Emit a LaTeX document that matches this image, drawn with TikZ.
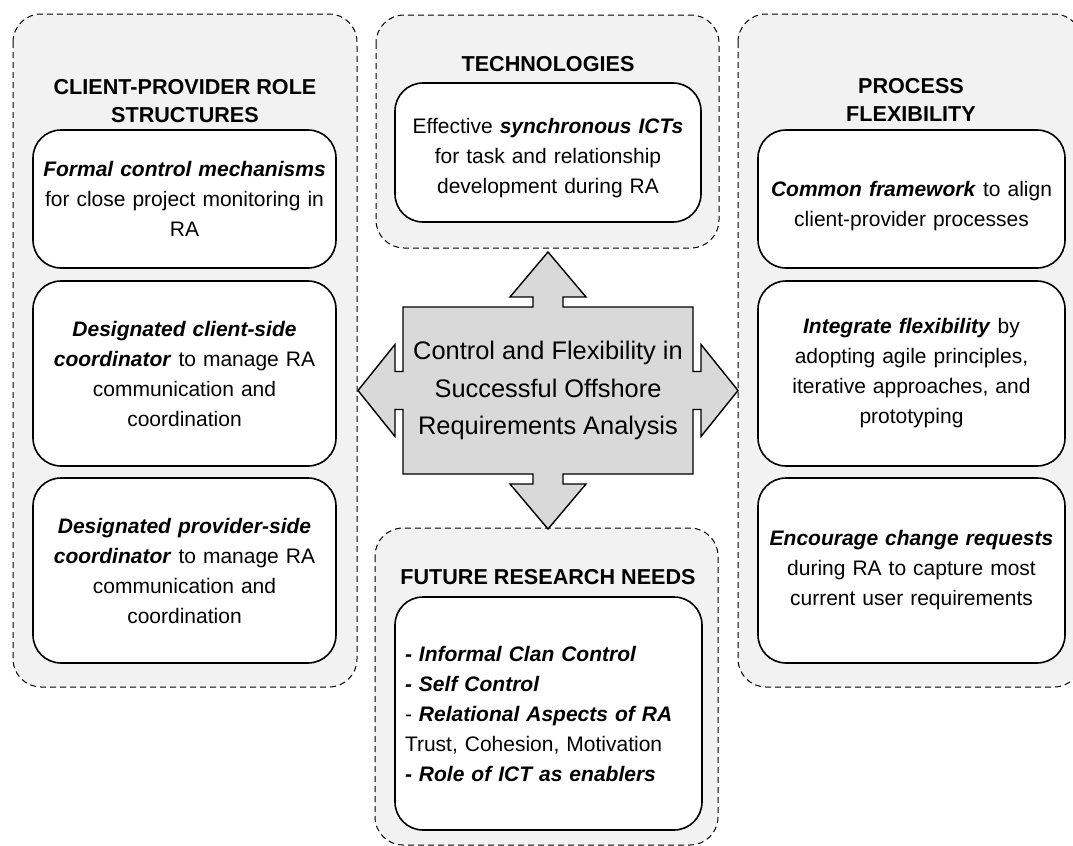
\documentclass[tikz,border=0pt]{standalone}
\usepackage{fontspec}
\setmainfont{Liberation Sans}
\usepackage{tikz}

\begin{document}
\begin{tikzpicture}[x=0.5pt, y=-0.5pt,
    group/.style={draw=black, line width=0.5pt, dash pattern=on 3pt off 2pt,
      fill=black!5, rounded corners=14pt},
    heading/.style={font=\bfseries\fontsize{10.8}{14}\selectfont, align=center},
    card/.style={draw=black, line width=0.8pt, fill=white, rounded corners=14pt,
      inner sep=5pt, text width=143.5pt, align=center,
      font=\fontsize{10.5}{15}\selectfont},
    hub/.style={draw=black, line width=0.7pt, fill=black!15},
    hubtext/.style={align=center, font=\fontsize{12.7}{18.75}\selectfont}]
    \useasboundingbox (0,0) rectangle (1073,846);
    \clip (0,0) rectangle (1073,846);

    % dashed groups
    \draw[group] (13,14) rectangle (357,687);
    \draw[group] (376,15) rectangle (719,248);
    \draw[group] (375,528) rectangle (718,845);
    \draw[group] (738,14) rectangle (1082,687);

    \node[heading] (roles title) at (185,101) {CLIENT-PROVIDER ROLE\\STRUCTURES};
    \node[heading] (tech title) at (548,64) {TECHNOLOGIES};
    \node[heading] (future title) at (548,577) {FUTURE RESEARCH NEEDS};
    \node[heading] (process title) at (911,100) {PROCESS\\FLEXIBILITY};

    % client-provider role structures
    \node[card, text width=141.5pt, minimum height=69pt] (formal) at (184.5,199)
    {\textbf{\textit{Formal control mechanisms}}\\for close project monitoring in\\RA};
    \node[card, text width=141.5pt, minimum height=92.5pt] (client) at (184.5,373.5)
    {\textbf{\textit{Designated client-side}}\\\textbf{\textit{coordinator}} to manage RA\\communication and\\coordination};
    \node[card, text width=141.5pt, minimum height=92.5pt] (provider) at (184.5,570.5)
    {\textbf{\textit{Designated provider-side}}\\\textbf{\textit{coordinator}} to manage RA\\communication and\\coordination};

    % technologies
    \node[card, text width=143pt, minimum height=69.5pt] (sync) at (548,152.5)
    {\rule{0pt}{13.5pt}Effective \textbf{\textit{synchronous ICTs}}\\for task and relationship\\development during RA};

    % future research needs
    \node[card, align=left, minimum height=116.5pt] (needs) at (548.5,713.5)
    {\textbf{\textit{- Informal Clan Control}}\\
     \textbf{\textit{- Self Control}}\\
     - \textbf{\textit{Relational Aspects of RA}}\\
     Trust, Cohesion, Motivation\\
     \textbf{\textit{- Role of ICT as enablers}}};

    % process flexibility
    \node[card, minimum height=69pt] (framework) at (911.5,199)
    {\rule{0pt}{14.9pt}\textbf{\textit{Common framework}} to align\\client-provider processes};
    \node[card, minimum height=92.5pt] (agile) at (911.5,373.5)
    {\textbf{\textit{Integrate flexibility}} by\\adopting agile principles,\\iterative approaches, and\\prototyping};
    \node[card, minimum height=92.5pt] (change) at (911.5,570.5)
    {\textbf{\textit{Encourage change requests}}\\during RA to capture most\\current user requirements};

    % four-way arrow
    \coordinate (hub) at (548,390.5);
    \begin{scope}[shift={(hub)}]
      \draw[hub] (-145,-83.5) -- (-15,-83.5) -- (-15,-93.5) -- (-38,-93.5)
      -- (0,-138.5) -- (38,-93.5) -- (15,-93.5) -- (15,-83.5)
      -- (145,-83.5) -- (145,-19) -- (153,-19) -- (153,-46)
      -- (190,0) -- (153,46) -- (153,19) -- (145,19)
      -- (145,83.5) -- (15,83.5) -- (15,93.5) -- (38,93.5)
      -- (0,138.5) -- (-38,93.5) -- (-15,93.5) -- (-15,83.5)
      -- (-145,83.5) -- (-145,19) -- (-153,19) -- (-153,46)
      -- (-190,0) -- (-153,-46) -- (-153,-19) -- (-145,-19) -- cycle;
    \end{scope}
    \node[hubtext] (hub label) at (hub)
    {Control and Flexibility in\\Successful Offshore\\Requirements Analysis};
\end{tikzpicture}
\end{document}
